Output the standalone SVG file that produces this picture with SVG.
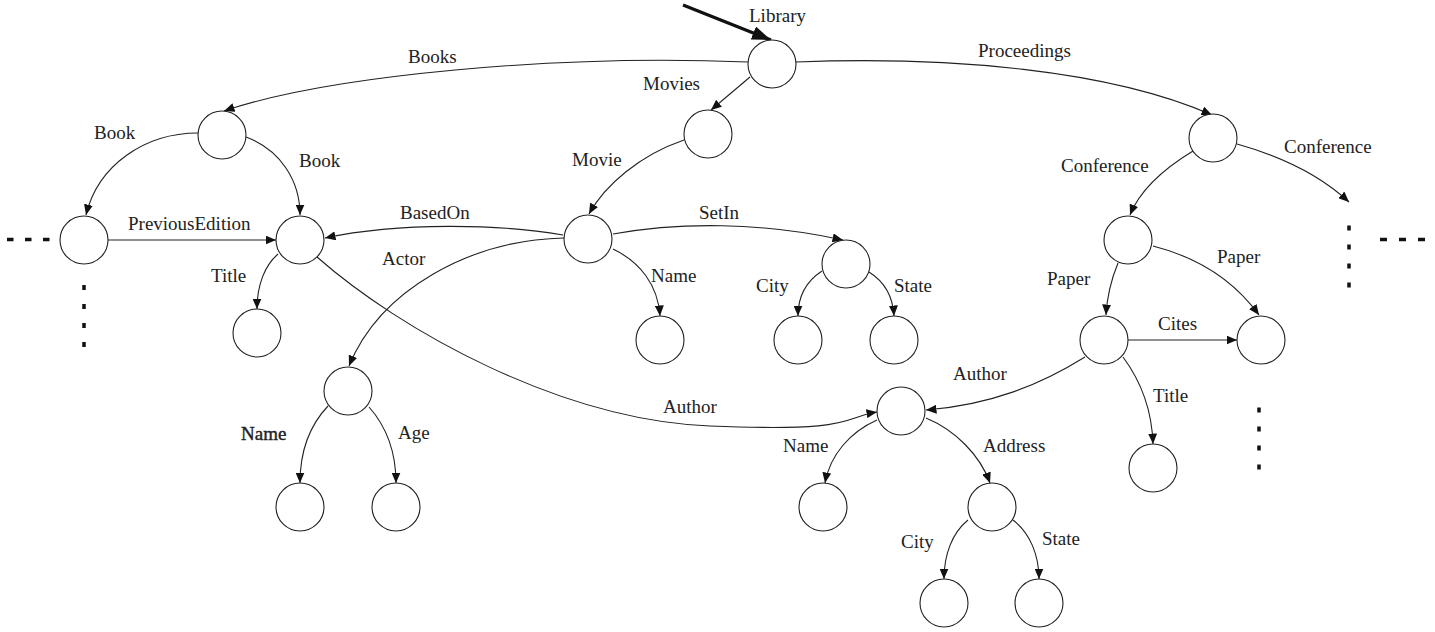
<svg xmlns="http://www.w3.org/2000/svg" width="1435" height="632" viewBox="0 0 1435 632">
<style>
.n{fill:#fff;stroke:#222;stroke-width:1.1}
.e{fill:none;stroke:#222;stroke-width:1.1;marker-end:url(#ah)}
.t{font-family:"Liberation Serif","Times New Roman",serif;font-size:19px;fill:#222}
.d{stroke:#111;stroke-width:3.5;fill:none}
</style>
<defs>
<marker id="ah" markerUnits="userSpaceOnUse" markerWidth="11" markerHeight="9" refX="10.5" refY="4.5" orient="auto">
<path d="M0,0 L10.5,4.5 L0,9 z" fill="#111"/>
</marker>
<marker id="ahb" markerUnits="userSpaceOnUse" markerWidth="20" markerHeight="14" refX="19" refY="7" orient="auto">
<path d="M0,0 L19,7 L0,14 z" fill="#111"/>
</marker>
</defs>
<rect width="1435" height="632" fill="#fff"/>

<g id="connectors">
<line x1="683" y1="5" x2="771" y2="40" stroke="#111" stroke-width="3.2" marker-end="url(#ahb)"/>
<path class="e" d="M748,62 C560,54 330,75 224,111"/>
<path class="e" d="M796,62 C950,56 1110,70 1212,115"/>
<path class="e" d="M750,77 L711,110"/>
<path class="e" d="M198,133 C145,133 98,165 86,215"/>
<path class="e" d="M246,137 C280,150 300,180 300,215"/>
<path class="e" d="M108,240 L276,240"/>
<path class="e" d="M684,140 C640,155 605,185 589,214"/>
<path class="e" d="M563,235 C500,224 400,222 325,238"/>
<path class="e" d="M564,238 C470,240 380,290 349,366"/>
<path class="e" d="M613,234 C680,222 760,222 843,240"/>
<path class="e" d="M613,249 C640,262 658,285 660,316"/>
<path class="e" d="M822,271 C805,282 798,298 798,316"/>
<path class="e" d="M869,272 C885,282 893,298 894,316"/>
<path class="e" d="M278,254 C265,265 257,285 257,309"/>
<path class="e" d="M317,257 C400,330 560,420 710,426 S840,418 877,412"/>
<path class="e" d="M1193,151 C1165,168 1140,190 1130,215"/>
<path class="e" d="M1237,144 C1280,156 1320,175 1349,202"/>
<path class="e" d="M1118,263 C1111,280 1107,298 1106,315"/>
<path class="e" d="M1153,246 C1200,258 1235,282 1259,315"/>
<path class="e" d="M1128,340 L1237,340"/>
<path class="e" d="M1085,357 C1040,385 990,405 926,410"/>
<path class="e" d="M1123,357 C1140,380 1152,410 1153,444"/>
<path class="e" d="M877,420 C850,432 830,455 825,483"/>
<path class="e" d="M926,418 C955,430 980,455 990,483"/>
<path class="e" d="M968,520 C952,533 944,555 944,579"/>
<path class="e" d="M1013,520 C1030,533 1039,555 1039,579"/>
<path class="e" d="M328,406 C310,425 300,450 300,483"/>
<path class="e" d="M369,407 C385,425 396,450 396,483"/>
</g>

<g id="ellipses">
<line class="d" x1="7" y1="239.5" x2="50" y2="239.5" stroke-dasharray="6.5 11.5"/>
<line class="d" x1="84" y1="285" x2="84" y2="348" stroke-dasharray="5 14"/>
<line class="d" x1="1349" y1="225.5" x2="1349" y2="288" stroke-dasharray="5 14"/>
<line class="d" x1="1380" y1="239.5" x2="1426" y2="239.5" stroke-dasharray="7 12"/>
<line class="d" x1="1259" y1="407.5" x2="1259" y2="470" stroke-dasharray="5 14"/>
</g>

<g id="labels">
<text class="t" x="749" y="22">Library</text>
<text class="t" x="408" y="63">Books</text>
<text class="t" x="643" y="90">Movies</text>
<text class="t" x="978" y="57">Proceedings</text>
<text class="t" x="94" y="139">Book</text>
<text class="t" x="299" y="167">Book</text>
<text class="t" x="572" y="166">Movie</text>
<text class="t" x="1061" y="172">Conference</text>
<text class="t" x="1284" y="153">Conference</text>
<text class="t" x="128" y="230">PreviousEdition</text>
<text class="t" x="400" y="219">BasedOn</text>
<text class="t" x="699" y="219">SetIn</text>
<text class="t" x="211" y="282">Title</text>
<text class="t" x="382" y="265">Actor</text>
<text class="t" x="651" y="282">Name</text>
<text class="t" x="756" y="292">City</text>
<text class="t" x="894" y="292">State</text>
<text class="t" x="1047" y="285">Paper</text>
<text class="t" x="1217" y="263">Paper</text>
<text class="t" x="1158" y="330">Cites</text>
<text class="t" x="953" y="380">Author</text>
<text class="t" x="1153" y="402">Title</text>
<text class="t" x="663" y="413">Author</text>
<text class="t" x="241" y="440" stroke="#222" stroke-width="0.4">Name</text>
<text class="t" x="398" y="439">Age</text>
<text class="t" x="783" y="452">Name</text>
<text class="t" x="983" y="452">Address</text>
<text class="t" x="901" y="548">City</text>
<text class="t" x="1042" y="545">State</text>
</g>

<g id="library"><circle class="n" cx="772" cy="64" r="24"/></g>
<g id="books"><circle class="n" cx="222" cy="135" r="24"/></g>
<g id="book1"><circle class="n" cx="84" cy="240" r="24"/></g>
<g id="book2"><circle class="n" cx="300" cy="240" r="24"/></g>
<g id="book2-title"><circle class="n" cx="257" cy="333" r="24"/></g>
<g id="movies"><circle class="n" cx="708" cy="134" r="24"/></g>
<g id="movie"><circle class="n" cx="588" cy="239" r="24"/></g>
<g id="movie-name"><circle class="n" cx="660" cy="340" r="24"/></g>
<g id="setin"><circle class="n" cx="846" cy="264" r="24"/></g>
<g id="setin-city"><circle class="n" cx="798" cy="340" r="24"/></g>
<g id="setin-state"><circle class="n" cx="894" cy="340" r="24"/></g>
<g id="actor"><circle class="n" cx="348" cy="391" r="24"/></g>
<g id="actor-name"><circle class="n" cx="300" cy="507" r="24"/></g>
<g id="actor-age"><circle class="n" cx="396" cy="507" r="24"/></g>
<g id="proceedings"><circle class="n" cx="1213" cy="138" r="24"/></g>
<g id="conference"><circle class="n" cx="1128" cy="240" r="24"/></g>
<g id="paper1"><circle class="n" cx="1104" cy="340" r="24"/></g>
<g id="paper2"><circle class="n" cx="1261" cy="340" r="24"/></g>
<g id="paper1-title"><circle class="n" cx="1153" cy="468" r="24"/></g>
<g id="author"><circle class="n" cx="901" cy="411" r="24"/></g>
<g id="author-name"><circle class="n" cx="823" cy="507" r="24"/></g>
<g id="address"><circle class="n" cx="992" cy="507" r="24"/></g>
<g id="address-city"><circle class="n" cx="944" cy="603" r="24"/></g>
<g id="address-state"><circle class="n" cx="1039" cy="603" r="24"/></g>
</svg>
